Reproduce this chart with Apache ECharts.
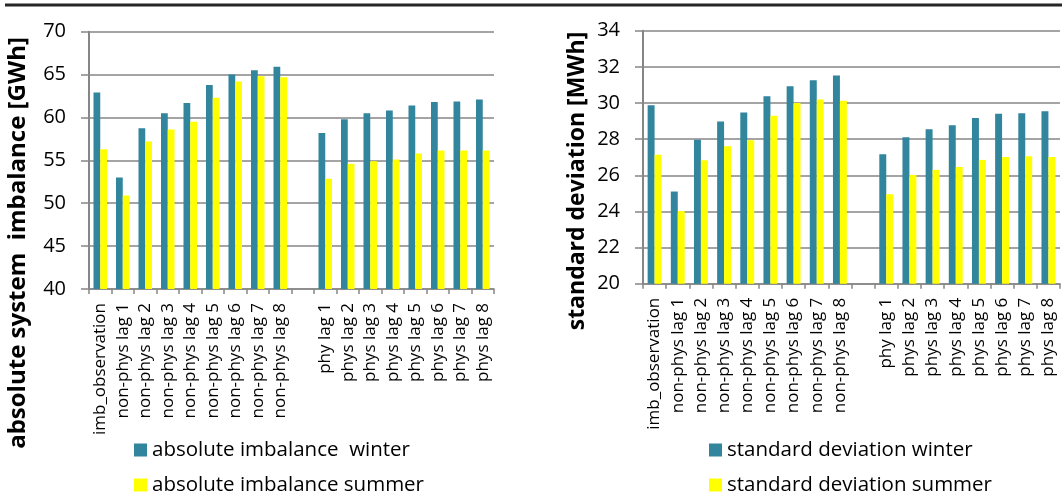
<!DOCTYPE html>
<html>
<head>
<meta charset="utf-8">
<script src="https://cdn.jsdelivr.net/npm/echarts@6/dist/echarts.min.js"></script>
<style>
html,body{margin:0;padding:0;background:#fff;}
#chart{width:1062px;height:498px;}
</style>
</head>
<body>
<div id="chart"></div>
<script>
const categories = ['imb_observation','non-phys lag 1','non-phys lag 2','non-phys lag 3','non-phys lag 4','non-phys lag 5','non-phys lag 6','non-phys lag 7','non-phys lag 8','','phy lag 1','phys lag 2','phys lag 3','phys lag 4','phys lag 5','phys lag 6','phys lag 7','phys lag 8'];
const imbalanceWinter = [62.9, 53.0, 58.75, 60.5, 61.7, 63.8, 65.0, 65.5, 65.9, null, 58.2, 59.8, 60.5, 60.8, 61.4, 61.8, 61.85, 62.1];
const imbalanceSummer = [56.3, 50.9, 57.2, 58.6, 59.5, 62.3, 64.2, 64.8, 64.7, null, 52.85, 54.6, 54.9, 55.1, 55.8, 56.15, 56.15, 56.15];
const stdWinter = [29.88, 25.1, 27.96, 28.97, 29.47, 30.37, 30.93, 31.26, 31.52, null, 27.16, 28.1, 28.55, 28.77, 29.17, 29.4, 29.43, 29.54];
const stdSummer = [27.14, 24.02, 26.83, 27.6, 27.94, 29.29, 30.0, 30.19, 30.13, null, 24.95, 26.02, 26.3, 26.46, 26.85, 27.01, 27.05, 27.01];
const seriesNames = ['absolute imbalance  winter','absolute imbalance summer','standard deviation winter','standard deviation summer'];
const yTitles = ['absolute system  imbalance [GWh]','standard deviation [MWh]'];

const FONT = 'Open Sans';
const GRAY = '#868686';
const BLUE = '#31859C';
const YELLOW = '#FFFF00';

function xAxis(gridIndex){
  return {
    type:'category', gridIndex, data:categories,
    axisLine:{show:true, lineStyle:{color:GRAY, width:1.5}},
    axisTick:{show:true, length:5, lineStyle:{color:GRAY, width:1.5}},
    axisLabel:{rotate:90, interval:0, margin:14, fontFamily:FONT, fontSize:17, color:'#000'}
  };
}
function yAxis(gridIndex, min, max, interval){
  return {
    type:'value', gridIndex, min, max, interval,
    axisLine:{show:true, lineStyle:{color:GRAY, width:2}},
    axisTick:{show:true, length:8, lineStyle:{color:GRAY, width:1.5}},
    splitLine:{show:true, lineStyle:{color:GRAY, width:1.5}},
    axisLabel:{margin:23, fontFamily:FONT, fontSize:20, color:'#000'}
  };
}
function barSeries(name, data, axis, color){
  return {
    type:'bar', name, data, xAxisIndex:axis, yAxisIndex:axis,
    barGap:'0%', barCategoryGap:'40%',
    itemStyle:{color},
    animation:false
  };
}
function legend(name, left, top){
  return {
    data:[name], left, top, padding:0, orient:'vertical',
    itemWidth:13, itemHeight:13, icon:'rect',
    textStyle:{fontFamily:FONT, fontSize:20.5, lineHeight:22, color:'#000'},
    selectedMode:false
  };
}

const chart = echarts.init(document.getElementById('chart'), null, {renderer:'canvas'});
chart.setOption({
  animation:false,
  backgroundColor:'#fff',
  grid:[
    {left:89, top:31.7, width:405, height:257.3, containLabel:false},
    {left:643, top:30.7, width:417, height:253, containLabel:false}
  ],
  xAxis:[xAxis(0), xAxis(1)],
  yAxis:[yAxis(0,40,70,5), yAxis(1,20,34,2)],
  legend:[
    legend(seriesNames[0], 134, 439),
    legend(seriesNames[1], 134, 474),
    legend(seriesNames[2], 709, 439),
    legend(seriesNames[3], 709, 474)
  ],
  series:[
    barSeries(seriesNames[0], imbalanceWinter, 0, BLUE),
    barSeries(seriesNames[1], imbalanceSummer, 0, YELLOW),
    barSeries(seriesNames[2], stdWinter, 1, BLUE),
    barSeries(seriesNames[3], stdSummer, 1, YELLOW)
  ],
  graphic:[
    {type:'line', shape:{x1:5, y1:5, x2:1062, y2:5}, style:{stroke:'#262626', lineWidth:3}},
    {type:'text', x:18, y:243, rotation:Math.PI/2,
      style:{text:yTitles[0], fontFamily:FONT, fontWeight:'bold', fontSize:24, fill:'#000', textAlign:'center', textVerticalAlign:'middle'}},
    {type:'text', x:577, y:181, rotation:Math.PI/2,
      style:{text:yTitles[1], fontFamily:FONT, fontWeight:'bold', fontSize:23, fill:'#000', textAlign:'center', textVerticalAlign:'middle'}}
  ]
});
</script>
</body>
</html>
